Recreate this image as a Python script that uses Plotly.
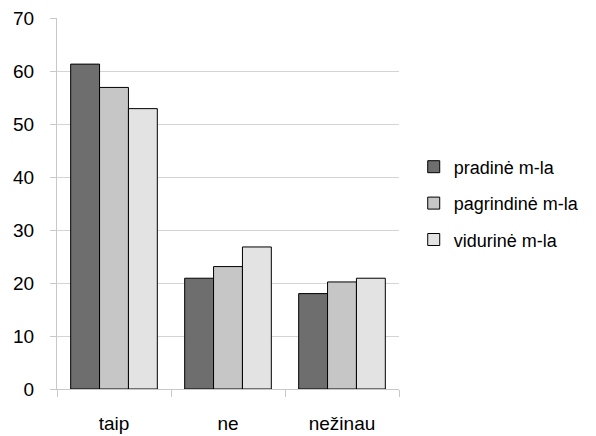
import plotly.graph_objects as go

categories = ["taip", "ne", "nežinau"]
series_names = ["pradinė m-la", "pagrindinė m-la", "vidurinė m-la"]
pradine = [61.3, 20.9, 18.0]
pagrindine = [56.9, 23.1, 20.2]
vidurine = [52.9, 26.8, 20.9]
colors = ["#6e6e6e", "#c6c6c6", "#e3e3e3"]
y_ticks = [0, 10, 20, 30, 40, 50, 60, 70]

fig = go.Figure()
for name, vals, col in zip(series_names, [pradine, pagrindine, vidurine], colors):
    fig.add_trace(go.Bar(
        x=categories, y=vals, name=name, legendgroup=name,
        marker=dict(color=col, line=dict(color="#000000", width=1)),
    ))

fig.update_layout(
    width=596, height=436,
    margin=dict(l=57, r=196, t=18, b=47),
    paper_bgcolor="white", plot_bgcolor="white",
    barmode="group", bargap=0.24, bargroupgap=0,
    font=dict(family="Liberation Sans, Arial, sans-serif", size=19, color="#000000"),
    showlegend=True,
    legend=dict(x=1.04, y=0.5, xanchor="left", yanchor="middle",
                font=dict(size=18), tracegroupgap=10, bgcolor="rgba(0,0,0,0)"),
    xaxis=dict(
        showline=True, linecolor="#c8c8c8", linewidth=1,
        ticks="outside", tickson="boundaries", ticklen=7, tickcolor="#c8c8c8",
        ticklabelstandoff=17, showgrid=False, automargin=False,
    ),
    yaxis=dict(
        range=[0, 70], tickvals=y_ticks,
        showline=True, linecolor="#c8c8c8", linewidth=1,
        ticks="outside", ticklen=6, tickcolor="#c8c8c8",
        showgrid=True, gridcolor="#d4d4d4", gridwidth=1,
        zeroline=False, ticklabelstandoff=12, automargin=False,
    ),
)

fig.write_html("out.html")
